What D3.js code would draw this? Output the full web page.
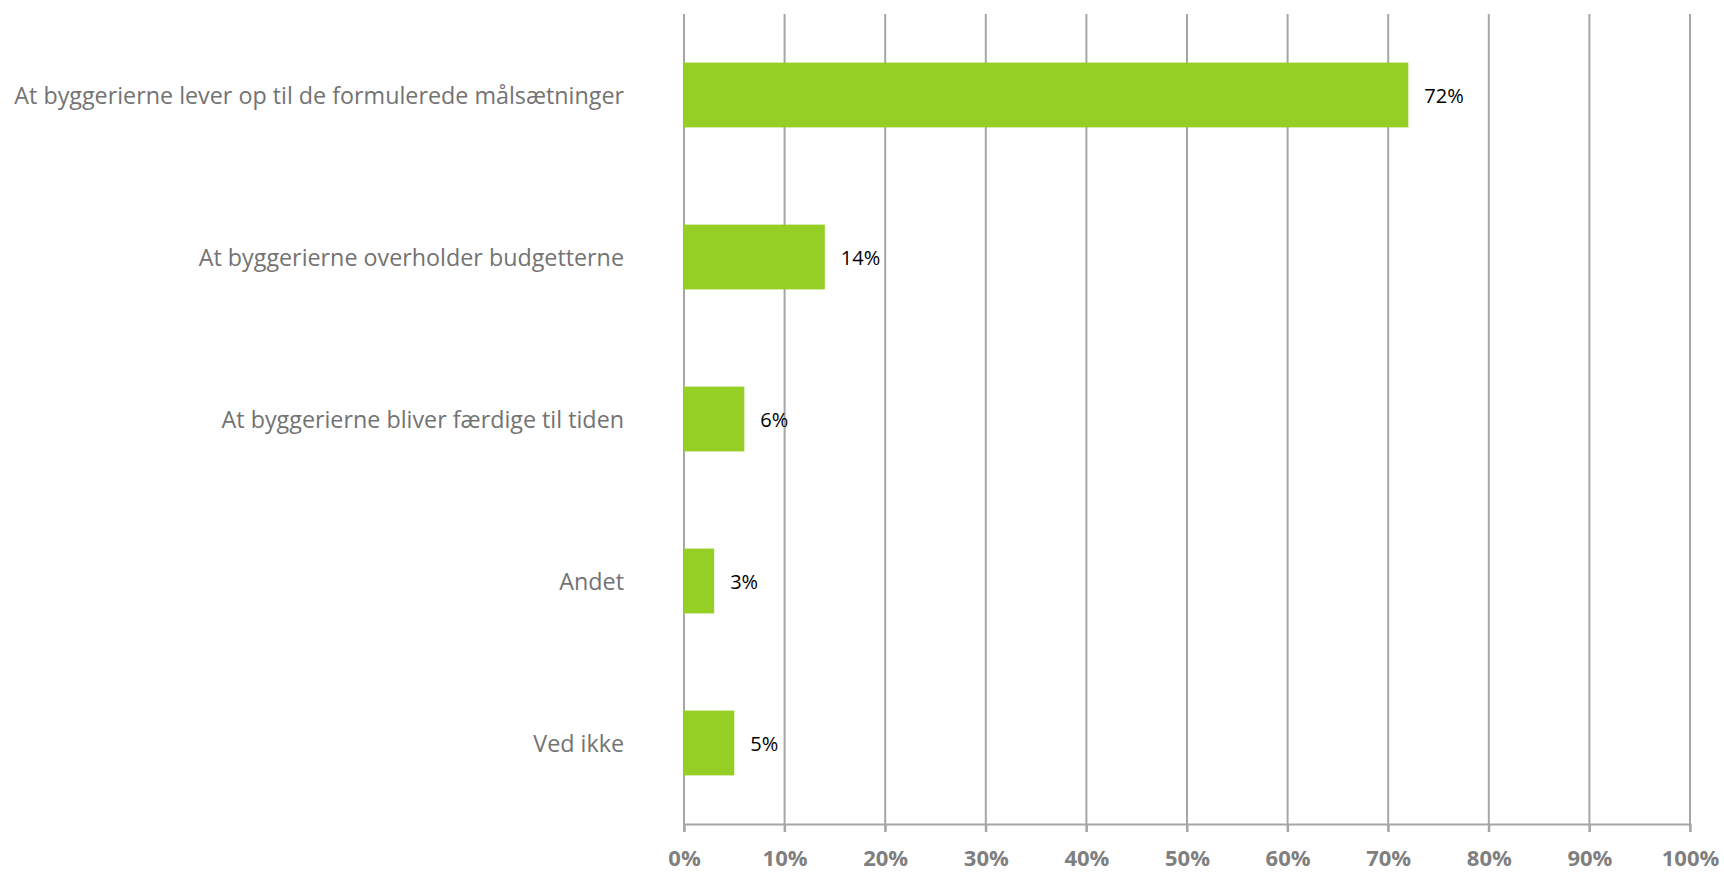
<!DOCTYPE html>
<html>
<head>
<meta charset="utf-8">
<script src="https://cdn.jsdelivr.net/npm/d3@7"></script>
<style>
body { margin: 0; background: #fff; }
</style>
</head>
<body>
<script>
var categories = [
    "At byggerierne lever op til de formulerede målsætninger",
    "At byggerierne overholder budgetterne",
    "At byggerierne bliver færdige til tiden",
    "Andet",
    "Ved ikke"
];
var values = [72, 14, 6, 3, 5];
var tickValues = [0, 10, 20, 30, 40, 50, 60, 70, 80, 90, 100];

var width = 1724, height = 872;
var plotLeft = 684, plotRight = 1690, plotTop = 14, plotBottom = 824;

var svg = d3.select("body").append("svg")
    .attr("width", width)
    .attr("height", height);

var x = d3.scaleLinear().domain([0, 100]).range([plotLeft, plotRight]);
var y = d3.scaleBand().domain(categories).range([plotTop, plotBottom])
    .paddingInner(0.6).paddingOuter(0.3);

// gridlines
svg.append("g")
    .selectAll("line")
    .data(tickValues)
    .join("line")
    .attr("x1", d => x(d)).attr("x2", d => x(d))
    .attr("y1", plotTop).attr("y2", plotBottom + 8)
    .attr("stroke", "#a6a6a6")
    .attr("stroke-width", 2);

// x axis
var xAxis = svg.append("g")
    .attr("transform", "translate(0," + plotBottom + ")")
    .call(d3.axisBottom(x).tickValues(tickValues).tickSize(8).tickFormat(d => d + "%"));
xAxis.select(".domain").attr("stroke", "#a6a6a6").attr("stroke-width", 2);
xAxis.selectAll(".tick line").attr("stroke", "#a6a6a6").attr("stroke-width", 2);
xAxis.selectAll("text")
    .attr("y", 26)
    .attr("fill", "#7f7f7f")
    .style("font-family", "'Open Sans', sans-serif")
    .style("font-weight", "bold")
    .style("font-size", "22px");

// bars
svg.append("g")
    .selectAll("rect")
    .data(values)
    .join("rect")
    .attr("x", x(0))
    .attr("y", (d, i) => y(categories[i]))
    .attr("width", d => x(d) - x(0))
    .attr("height", y.bandwidth())
    .attr("fill", "#95cf25");

// value labels
svg.append("g")
    .selectAll("text")
    .data(values)
    .join("text")
    .attr("x", d => x(d) + 16)
    .attr("y", (d, i) => y(categories[i]) + y.bandwidth() / 2)
    .attr("dy", "0.38em")
    .style("font-family", "'Open Sans', sans-serif")
    .style("font-size", "20px")
    .attr("fill", "#000")
    .text(d => d + "%");

// category labels
svg.append("g")
    .selectAll("text")
    .data(categories)
    .join("text")
    .attr("x", plotLeft - 60)
    .attr("y", d => y(d) + y.bandwidth() / 2)
    .attr("dy", "0.4em")
    .attr("text-anchor", "end")
    .style("font-family", "'Open Sans', sans-serif")
    .style("font-size", "23.3px")
    .attr("fill", "#737373")
    .text(d => d);
</script>
</body>
</html>
